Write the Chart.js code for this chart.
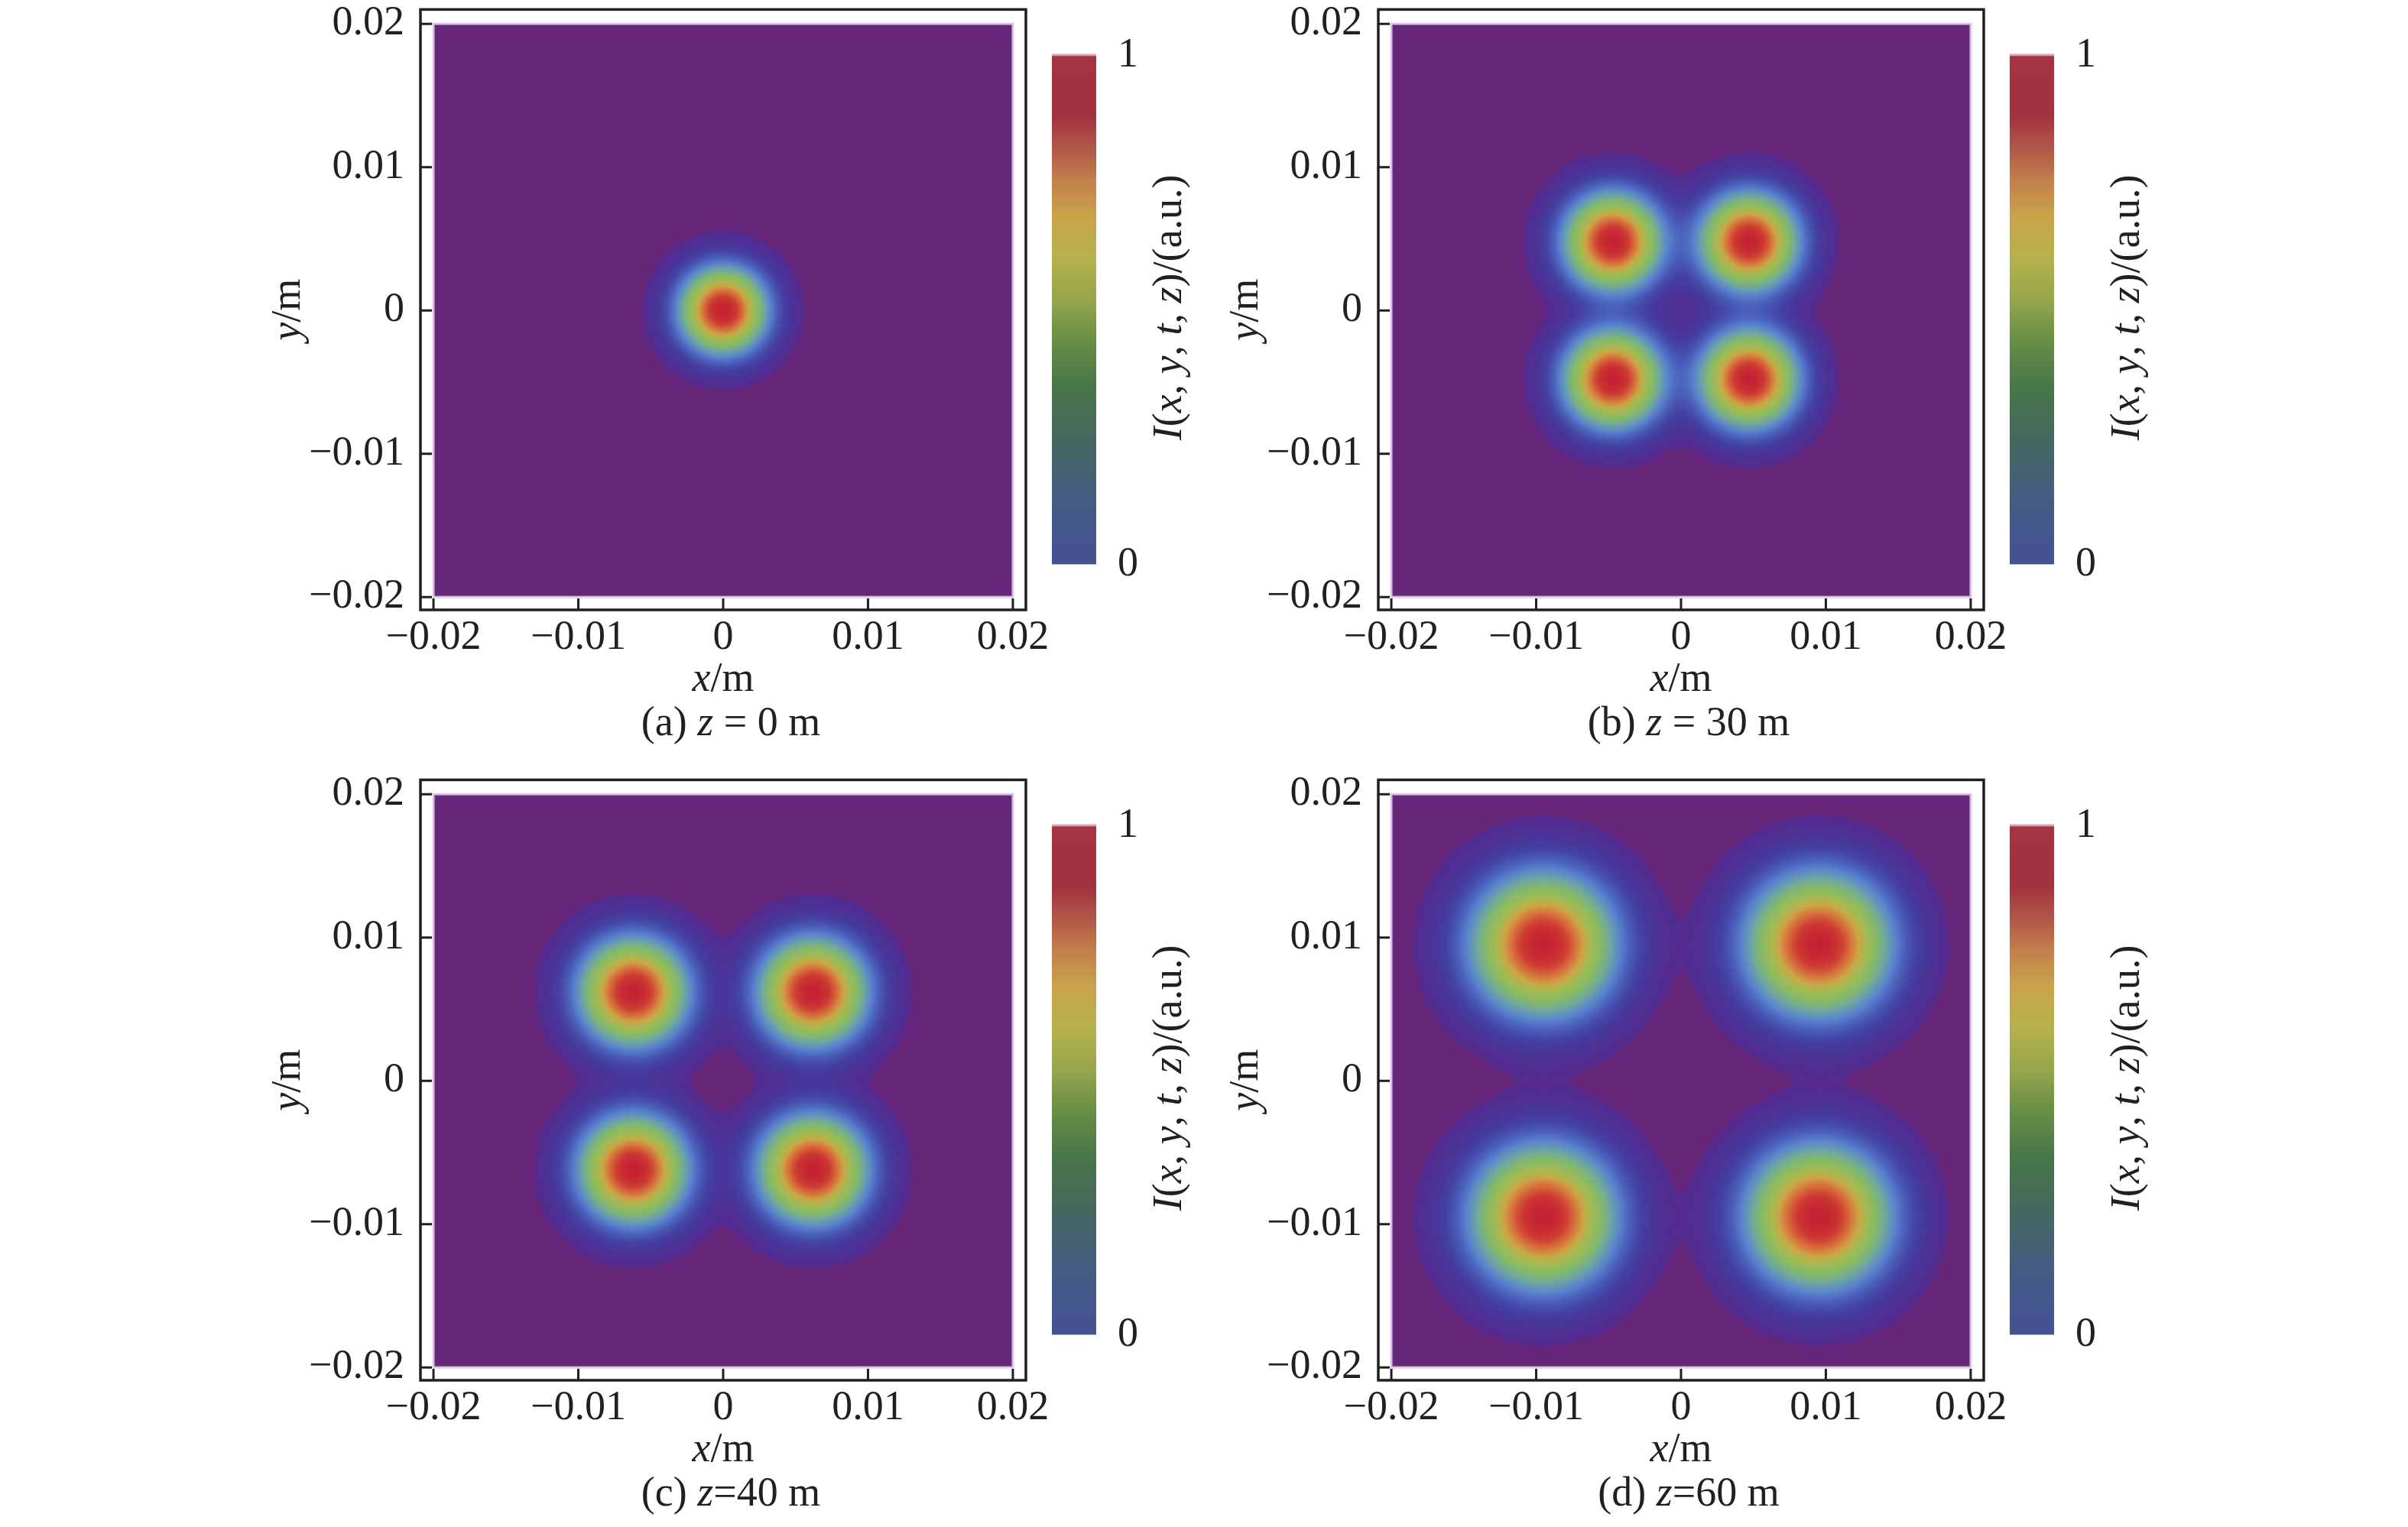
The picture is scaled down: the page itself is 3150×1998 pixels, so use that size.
<!DOCTYPE html>
<html>
<head>
<meta charset="utf-8">
<script src="https://cdn.jsdelivr.net/npm/chart.js@4"></script>
<style>
  html, body { margin: 0; padding: 0; background: #fff; overflow: hidden; }
  canvas { position: absolute; }
</style>
</head>
<body>
<canvas id="pa" width="1250" height="1000"></canvas>
<canvas id="pb" width="1250" height="1000"></canvas>
<canvas id="pc" width="1250" height="1000"></canvas>
<canvas id="pd" width="1250" height="1000"></canvas>
<script>
// axis ticks (m)
var xTicks = [-0.02, -0.01, 0, 0.01, 0.02];
var yTicks = [-0.02, -0.01, 0, 0.01, 0.02];
var cbTicks = [0, 1];

// panel captions
var panelTags = ["(a)", "(b)", "(c)", "(d)"];
var zValues = [0, 30, 40, 60];
var zSep = [" = ", " = ", "=", "="];

// beam spot centres [x, y] in m
var spotsA = [[0, 0]];
var spotsB = [[-0.0047, 0.0048], [0.0047, 0.0048], [-0.0047, -0.0048], [0.0047, -0.0048]];
var spotsC = [[-0.0062, 0.0062], [0.0062, 0.0062], [-0.0062, -0.0062], [0.0062, -0.0062]];
var spotsD = [[-0.0095, 0.0095], [0.0095, 0.0095], [-0.0095, -0.0095], [0.0095, -0.0095]];
// 1/e radius of each spot (m)
var spotWidth = [0.0026, 0.0029, 0.0032, 0.0042];

var FONT = '"Liberation Serif", "Times New Roman", "DejaVu Serif", serif';
var INK = "#231f20";
var BG = [102, 38, 122];
var CUT = 0.01;

// colours used in the map
var mapStops = [
  [0.00, [90, 40, 140]],
  [0.03, [76, 50, 150]],
  [0.07, [68, 64, 162]],
  [0.14, [76, 100, 190]],
  [0.20, [90, 132, 205]],
  [0.30, [112, 168, 160]],
  [0.40, [132, 186, 104]],
  [0.55, [168, 186, 80]],
  [0.65, [205, 165, 70]],
  [0.76, [216, 112, 60]],
  [0.88, [205, 58, 50]],
  [1.00, [196, 34, 50]]
];
// colours of the colour bar (bottom -> top)
var barStops = [
  [0.00, [67, 82, 145]],
  [0.05, [68, 85, 145]],
  [0.15, [68, 95, 125]],
  [0.25, [70, 105, 95]],
  [0.35, [72, 118, 72]],
  [0.45, [108, 145, 70]],
  [0.52, [150, 165, 75]],
  [0.60, [182, 178, 76]],
  [0.68, [200, 165, 75]],
  [0.75, [195, 130, 75]],
  [0.82, [176, 86, 70]],
  [0.88, [163, 50, 62]],
  [1.00, [165, 52, 65]]
];

// where each frame sits on the page: [left, top]
var frames = [[550, 12], [1803, 12], [550, 1020], [1803, 1020]];
var FRAME_H = 786;
var XAXIS_H = 190;

function lerpColor(stops, v) {
  if (v <= stops[0][0]) return stops[0][1];
  for (var i = 1; i < stops.length; i++) {
    if (v <= stops[i][0]) {
      var a = stops[i - 1], b = stops[i];
      var t = (v - a[0]) / (b[0] - a[0]);
      return [0, 1, 2].map(function (k) { return Math.round(a[1][k] + (b[1][k] - a[1][k]) * t); });
    }
  }
  return stops[stops.length - 1][1];
}

function fmt(v) {
  if (Math.abs(v) < 1e-9) return "0";
  return (v < 0 ? "\u2212" : "") + Math.abs(v).toFixed(2);
}

function drawRich(ctx, parts, x, y, size, align) {
  var w = parts.map(function (p) {
    ctx.font = (p[1] ? "italic " : "") + size + "px " + FONT;
    return ctx.measureText(p[0]).width;
  });
  var total = w.reduce(function (s, a) { return s + a; }, 0);
  var cx = align === "center" ? x - total / 2 : x;
  ctx.textBaseline = "middle";
  ctx.textAlign = "left";
  ctx.fillStyle = INK;
  parts.forEach(function (p, i) {
    ctx.font = (p[1] ? "italic " : "") + size + "px " + FONT;
    ctx.fillText(p[0], cx, y);
    cx += w[i];
  });
}

function intensityImage(spots, w) {
  var N = 280, lo = -0.02, hi = 0.02;
  var off = document.createElement("canvas");
  off.width = N; off.height = N;
  var octx = off.getContext("2d");
  var img = octx.createImageData(N, N);
  var vals = new Float32Array(N * N), peak = 0;
  for (var j = 0; j < N; j++) {
    var y = hi - (j + 0.5) / N * (hi - lo);
    for (var i = 0; i < N; i++) {
      var x = lo + (i + 0.5) / N * (hi - lo);
      var s = 0;
      spots.forEach(function (c) {
        var dx = x - c[0], dy = y - c[1];
        s += Math.exp(-(dx * dx + dy * dy) / (w * w));
      });
      vals[j * N + i] = s;
      if (s > peak) peak = s;
    }
  }
  for (var k = 0; k < N * N; k++) {
    var v = vals[k] / peak;
    var c = v < CUT ? BG : lerpColor(mapStops, v);
    img.data[4 * k] = c[0]; img.data[4 * k + 1] = c[1]; img.data[4 * k + 2] = c[2]; img.data[4 * k + 3] = 255;
  }
  octx.putImageData(img, 0, 0);
  return off;
}

var panelPlugin = {
  id: "panel",
  beforeDatasetsDraw: function (chart, args, opts) {
    var ctx = chart.ctx, xs = chart.scales.x, ys = chart.scales.y;
    var x0 = xs.getPixelForValue(-0.02), x1 = xs.getPixelForValue(0.02);
    var y0 = ys.getPixelForValue(0.02), y1 = ys.getPixelForValue(-0.02);
    ctx.save();
    ctx.imageSmoothingEnabled = true;
    ctx.drawImage(opts.image, x0, y0, x1 - x0, y1 - y0);
    ctx.strokeStyle = "rgba(222,200,232,0.9)";
    ctx.lineWidth = 3;
    ctx.strokeRect(x0, y0, x1 - x0, y1 - y0);
    ctx.restore();
  },
  afterDraw: function (chart, args, opts) {
    var ctx = chart.ctx, a = chart.chartArea, xs = chart.scales.x, ys = chart.scales.y;
    ctx.save();
    // frame
    ctx.strokeStyle = INK;
    ctx.lineWidth = 3.5;
    ctx.strokeRect(a.left, a.top, a.right - a.left, a.bottom - a.top);
    // inward ticks
    ctx.lineWidth = 3;
    ctx.beginPath();
    xTicks.forEach(function (v) {
      var p = xs.getPixelForValue(v);
      ctx.moveTo(p, a.bottom); ctx.lineTo(p, a.bottom - 15);
    });
    yTicks.forEach(function (v) {
      var p = ys.getPixelForValue(v);
      ctx.moveTo(a.left, p); ctx.lineTo(a.left + 15, p);
    });
    ctx.stroke();

    // axis titles
    var cx = (a.left + a.right) / 2;
    drawRich(ctx, [["x", 1], ["/m", 0]], cx, a.bottom + 92, 54, "center");
    ctx.save();
    ctx.translate(a.left - 172, (a.top + a.bottom) / 2);
    ctx.rotate(-Math.PI / 2);
    drawRich(ctx, [["y", 1], ["/m", 0]], 0, 0, 54, "center");
    ctx.restore();
    // caption
    drawRich(ctx, [[opts.tag + " ", 0], ["z", 1], [opts.sep + opts.z + " m", 0]], cx + 10, a.bottom + 150, 54, "center");

    // colour bar
    var bl = a.right + 34, bw = 58, bt = a.top + 60, bb = a.top + 726;
    var g = ctx.createLinearGradient(0, bb, 0, bt);
    barStops.forEach(function (s) { g.addColorStop(s[0], "rgb(" + s[1].join(",") + ")"); });
    ctx.fillStyle = g;
    ctx.fillRect(bl, bt, bw, bb - bt);
    ctx.fillStyle = "rgba(215,160,170,0.9)";
    ctx.fillRect(bl, bt - 2, bw, 3);
    ctx.fillStyle = INK;
    ctx.font = "54px " + FONT;
    ctx.textAlign = "left";
    ctx.textBaseline = "middle";
    cbTicks.forEach(function (v) {
      ctx.fillText(String(v), bl + bw + 28, bb - v * (bb - bt));
    });
    ctx.translate(a.right + 189, a.top + 390);
    ctx.rotate(-Math.PI / 2);
    drawRich(ctx, [["I", 1], ["(", 0], ["x", 1], [", ", 0], ["y", 1], [", ", 0], ["t", 1], [", ", 0], ["z", 1], [")/(a.u.)", 0]], 0, 0, 54, "center");
    ctx.restore();
  }
};

function panelConfig(k, spots, image) {
  return {
    type: "scatter",
    data: {
      datasets: [{
        data: spots.map(function (c) { return { x: c[0], y: c[1] }; }),
        pointRadius: 0,
        showLine: false
      }]
    },
    options: {
      responsive: false,
      animation: false,
      devicePixelRatio: 1,
      layout: { padding: { top: 12, right: 256, left: 0, bottom: 0 } },
      plugins: {
        legend: { display: false },
        tooltip: { enabled: false },
        panel: { image: image, tag: panelTags[k], z: zValues[k], sep: zSep[k] }
      },
      scales: {
        x: {
          type: "linear", min: -0.0209, max: 0.0209,
          afterBuildTicks: function (s) { s.ticks = xTicks.map(function (v) { return { value: v }; }); },
          afterFit: function (s) { s.height = XAXIS_H; },
          grid: { display: false, drawTicks: false },
          border: { display: false },
          ticks: { callback: fmt, color: INK, font: { family: FONT, size: 54 }, padding: 4, maxRotation: 0, autoSkip: false }
        },
        y: {
          type: "linear", min: -0.0209, max: 0.021,
          afterBuildTicks: function (s) { s.ticks = yTicks.map(function (v) { return { value: v }; }); },
          afterFit: function (s) { s.width = 202; },
          grid: { display: false, drawTicks: false },
          border: { display: false },
          ticks: { callback: fmt, color: INK, font: { family: FONT, size: 54 }, padding: 21, autoSkip: false }
        }
      }
    },
    plugins: [panelPlugin]
  };
}

function makePanel(id, k, spots) {
  var el = document.getElementById(id);
  var image = intensityImage(spots, spotWidth[k]);
  // first pass: find how far the chart area starts from the canvas top
  var chart = new Chart(el, panelConfig(k, spots, image));
  var top = chart.chartArea.top;
  chart.destroy();
  // second pass: size the canvas so the frame gets its height
  el.width = 1250;
  el.height = Math.round(top + FRAME_H + XAXIS_H);
  chart = new Chart(el, panelConfig(k, spots, image));
  var a = chart.chartArea;
  el.style.left = (frames[k][0] - a.left) + "px";
  el.style.top = (frames[k][1] - a.top) + "px";
  return chart;
}

makePanel("pa", 0, spotsA);
makePanel("pb", 1, spotsB);
makePanel("pc", 2, spotsC);
makePanel("pd", 3, spotsD);
</script>
</body>
</html>
